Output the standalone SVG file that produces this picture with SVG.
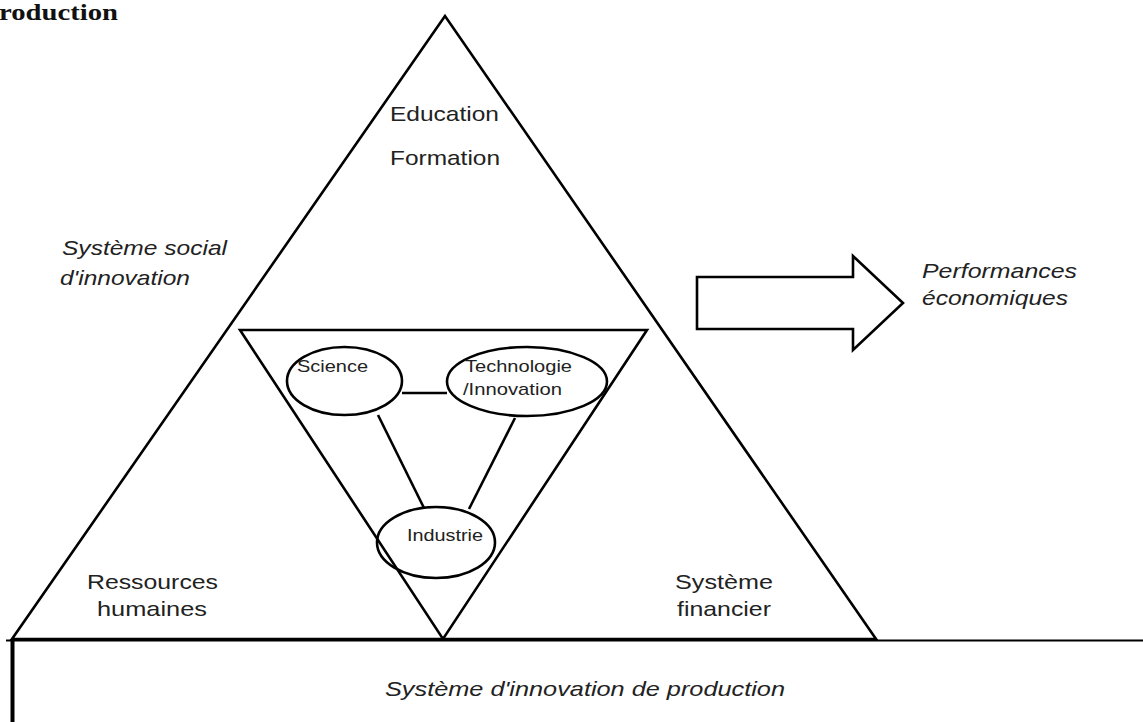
<svg xmlns="http://www.w3.org/2000/svg" width="1143" height="722" viewBox="0 0 1143 722">
<style>
.ln{fill:none;stroke:#000;stroke-width:2.6;stroke-linejoin:miter}
.el{fill:#fff;stroke:#000;stroke-width:2.6}
.t{font-family:"Liberation Sans",Arial,sans-serif;fill:#222}
.big{font-size:21px}
.sm{font-size:17px}
.it{font-style:italic}
.ttl{font-family:"Liberation Serif","Times New Roman",serif;font-weight:bold;font-size:23px;fill:#111}
</style>
<rect width="1143" height="722" fill="#fff"/>
<text class="ttl" x="-1" y="20" textLength="119" lengthAdjust="spacingAndGlyphs">roduction</text>

<g id="production-system">
<line x1="6" y1="640.5" x2="1143" y2="640.5" stroke="#000" stroke-width="2.2"/>
<line x1="12.5" y1="639" x2="12.5" y2="722" stroke="#000" stroke-width="4"/>
<text class="t big it" x="385" y="696" textLength="400" lengthAdjust="spacingAndGlyphs">Système d'innovation de production</text>
</g>

<g id="social-triangle">
<polygon class="ln" points="445,16 12,639 876,639"/>
<text class="t big" x="390" y="121" textLength="109" lengthAdjust="spacingAndGlyphs">Education</text>
<text class="t big" x="390" y="165" textLength="110" lengthAdjust="spacingAndGlyphs">Formation</text>
<text class="t big it" x="62" y="255" textLength="165" lengthAdjust="spacingAndGlyphs">Système social</text>
<text class="t big it" x="60" y="285" textLength="130" lengthAdjust="spacingAndGlyphs">d'innovation</text>
<text class="t big" x="87" y="589" textLength="131" lengthAdjust="spacingAndGlyphs">Ressources</text>
<text class="t big" x="97" y="616" textLength="110" lengthAdjust="spacingAndGlyphs">humaines</text>
<text class="t big" x="675" y="589" textLength="98" lengthAdjust="spacingAndGlyphs">Système</text>
<text class="t big" x="677" y="616" textLength="94" lengthAdjust="spacingAndGlyphs">financier</text>
</g>

<g id="inner-triangle">
<polygon class="ln" points="240,330 647,330 443,639"/>
</g>

<g id="connectors">
<line class="ln" x1="402" y1="393" x2="447" y2="393"/>
<line class="ln" x1="378" y1="415" x2="424" y2="508"/>
<line class="ln" x1="515" y1="418" x2="469" y2="509"/>
</g>

<g id="science">
<ellipse class="el" cx="344.5" cy="381" rx="57.5" ry="34"/>
<text class="t sm" x="297" y="372" textLength="71" lengthAdjust="spacingAndGlyphs">Science</text>
</g>

<g id="technologie">
<ellipse class="el" cx="527" cy="381.5" rx="80" ry="34.5"/>
<text class="t sm" x="465" y="372" textLength="107" lengthAdjust="spacingAndGlyphs">Technologie</text>
<text class="t sm" x="463" y="395" textLength="99" lengthAdjust="spacingAndGlyphs">/Innovation</text>
</g>

<g id="industrie">
<ellipse class="el" cx="436" cy="542.5" rx="59" ry="35.5" fill="none" style="fill:none"/>
<text class="t sm" x="407" y="541" textLength="76" lengthAdjust="spacingAndGlyphs">Industrie</text>
</g>

<g id="performance-arrow">
<polygon class="ln" points="697,277 853,277 853,256 903,303 853,350 853,329 697,329"/>
<text class="t big it" x="922" y="278" textLength="155" lengthAdjust="spacingAndGlyphs">Performances</text>
<text class="t big it" x="922" y="305" textLength="146" lengthAdjust="spacingAndGlyphs">économiques</text>
</g>
</svg>
